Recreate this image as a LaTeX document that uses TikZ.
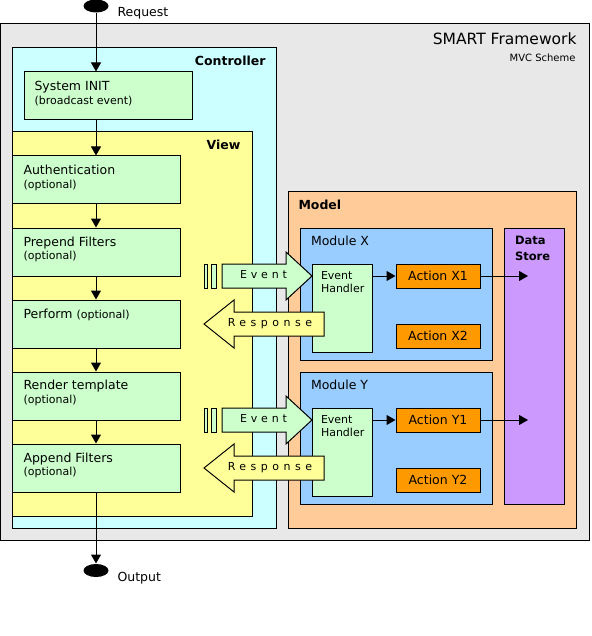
\documentclass[tikz,border=0pt]{standalone}
\usepackage{fontspec}
\setmainfont{DejaVu Sans}
\newfontfamily\evfont[LetterSpace=35]{DejaVu Sans}
\newfontfamily\respfont[LetterSpace=41]{DejaVu Sans}
\usetikzlibrary{arrows.meta,shapes.geometric}
\definecolor{framegray}{HTML}{E8E8E8}
\definecolor{ctrlcyan}{HTML}{CCFFFF}
\definecolor{viewyellow}{HTML}{FFFF99}
\definecolor{stepgreen}{HTML}{CCFFCC}
\definecolor{modelorange}{HTML}{FFCC99}
\definecolor{moduleblue}{HTML}{99CCFF}
\definecolor{storeviolet}{HTML}{CC99FF}
\definecolor{actionorange}{HTML}{FF9900}
\newcommand\txt{\fontsize{12.5}{13.3}\selectfont}
\newcommand\smalltxt{\fontsize{11}{13.3}\selectfont}
\begin{document}
\begin{tikzpicture}[x=1pt,y=-1pt,line width=1pt,inner sep=0pt,
  box/.style={draw,rectangle},
  txtlbl/.style={align=left,anchor=north west,font=\smalltxt},
  flow/.style={-{Triangle[length=9pt,width=10pt]}},
  blob/.style={ellipse,fill=black,minimum width=25,minimum height=13}]
\useasboundingbox (0,0) rectangle (591,636);

\node[box,fill=framegray,minimum width=589,minimum height=516](frame) at (295,282) {};
\node[box,fill=ctrlcyan,minimum width=264,minimum height=480](ctrl) at (144,288) {};
\node[box,fill=stepgreen,minimum width=168,minimum height=48](sysinit) at (108,96) {};
\node[box,fill=viewyellow,minimum width=240,minimum height=384](view) at (132,324) {};
\node[box,fill=stepgreen,minimum width=168,minimum height=48](auth) at (96,180) {};
\node[box,fill=stepgreen,minimum width=168,minimum height=48](prepend) at (96,252) {};
\node[box,fill=stepgreen,minimum width=168,minimum height=48](perform) at (96,324) {};
\node[box,fill=stepgreen,minimum width=168,minimum height=48](render) at (96,396) {};
\node[box,fill=stepgreen,minimum width=168,minimum height=48](append) at (96,468) {};

\node[box,fill=modelorange,minimum width=288,minimum height=336](model) at (432,360) {};
\node[box,fill=moduleblue,minimum width=192,minimum height=132](modx) at (396,294) {};
\node[box,fill=moduleblue,minimum width=192,minimum height=132](mody) at (396,438) {};
\node[box,fill=storeviolet,minimum width=60,minimum height=276](store) at (534,366) {};
\node[box,fill=stepgreen,minimum width=60,minimum height=88](handlerx) at (342,308) {};
\node[box,fill=stepgreen,minimum width=60,minimum height=88](handlery) at (342,452) {};
\node[box,fill=actionorange,minimum width=84,minimum height=24,font=\txt](actx1) at (438,276) {Action X1};
\node[box,fill=actionorange,minimum width=84,minimum height=24,font=\txt](actx2) at (438,336) {Action X2};
\node[box,fill=actionorange,minimum width=84,minimum height=24,font=\txt](acty1) at (438,420) {Action Y1};
\node[box,fill=actionorange,minimum width=84,minimum height=24,font=\txt](acty2) at (438,480) {Action Y2};

\draw[fill=stepgreen] (204.5,264) rectangle (207.5,288);
\draw[fill=stepgreen] (211.5,264) rectangle (216.5,288);
\draw[fill=stepgreen] (222,264) -- (286,264) -- (286,252) -- (312,276) -- (286,300) -- (286,288) -- (222,288) -- cycle;
\draw[fill=viewyellow] (324,312) -- (234,312) -- (234,300) -- (204,324) -- (234,348) -- (234,336) -- (324,336) -- cycle;
\draw[fill=stepgreen] (204.5,408) rectangle (207.5,432);
\draw[fill=stepgreen] (211.5,408) rectangle (216.5,432);
\draw[fill=stepgreen] (222,408) -- (286,408) -- (286,396) -- (312,420) -- (286,444) -- (286,432) -- (222,432) -- cycle;
\draw[fill=viewyellow] (324,456) -- (234,456) -- (234,444) -- (204,468) -- (234,492) -- (234,480) -- (324,480) -- cycle;
\node[anchor=base,font=\evfont\fontsize{11}{12}\selectfont](eventx) at (263.5,278) {Event};
\node[anchor=base,font=\respfont\fontsize{11}{12}\selectfont](responsex) at (270,326) {Response};
\node[anchor=base,font=\evfont\fontsize{11}{12}\selectfont](eventy) at (263.5,422) {Event};
\node[anchor=base,font=\respfont\fontsize{11}{12}\selectfont](responsey) at (270,470) {Response};

\node[blob](request) at (96,6) {};
\node[blob](output) at (96,570.5) {};
\coordinate (storex) at (528,276);
\coordinate (storey) at (528,420);

\draw[flow] (request) -- (request |- sysinit.north);
\draw[flow] (sysinit.south -| auth) -- (auth);
\draw[flow] (auth) -- (prepend);
\draw[flow] (prepend) -- (perform);
\draw[flow] (perform) -- (render);
\draw[flow] (render) -- (append);
\draw[flow] (append) -- (output);
\draw[flow] (handlerx.east |- actx1) -- (actx1);
\draw[flow] (actx1) -- (storex);
\draw[flow] (handlery.east |- acty1) -- (acty1);
\draw[flow] (acty1) -- (storey);

\node[anchor=base west,font=\txt](requestlbl) at (117,17) {Request};
\node[anchor=base west,font=\txt](outputlbl) at (117,581) {Output};
\node[anchor=base east,font=\fontsize{15.5}{16}\selectfont](title) at (577,45) {SMART Framework};
\node[anchor=base east,font=\fontsize{10}{11}\selectfont](subtitle) at (576,62) {MVC Scheme};
\node[anchor=base east,font=\txt\bfseries](ctrllbl) at (266,66) {Controller};
\node[anchor=base east,font=\txt\bfseries](viewlbl) at (241,150) {View};
\node[anchor=base west,font=\txt\bfseries](modellbl) at (298,209) {Model};
\node[anchor=base west,font=\txt](modxlbl) at (310.5,245.5) {Module X};
\node[anchor=base west,font=\txt](modylbl) at (310.5,389.5) {Module Y};
\node[txtlbl,font=\fontsize{11.5}{16}\selectfont\bfseries](storelbl) at (514.5,235.5) {Data\\Store};
\node[txtlbl,font=\fontsize{11}{13.6}\selectfont](handlerxlbl) at (320.5,270.5) {Event\\Handler};
\node[txtlbl,font=\fontsize{11}{13.6}\selectfont](handlerylbl) at (320.5,414.5) {Event\\Handler};

\node[txtlbl](sysinitlbl) at (34,81.2) {{\txt System INIT}\\(broadcast event)};
\node[txtlbl](authlbl) at (23,165) {{\txt Authentication}\\(optional)};
\node[txtlbl](prependlbl) at (23,236.5) {{\txt Prepend Filters}\\(optional)};
\node[anchor=base west,font=\txt](performlbl) at (23,318) {Perform {\smalltxt (optional)}};
\node[txtlbl](renderlbl) at (23,379.8) {{\txt Render template}\\(optional)};
\node[txtlbl](appendlbl) at (23,452.2) {{\txt Append Filters}\\(optional)};
\end{tikzpicture}
\end{document}
